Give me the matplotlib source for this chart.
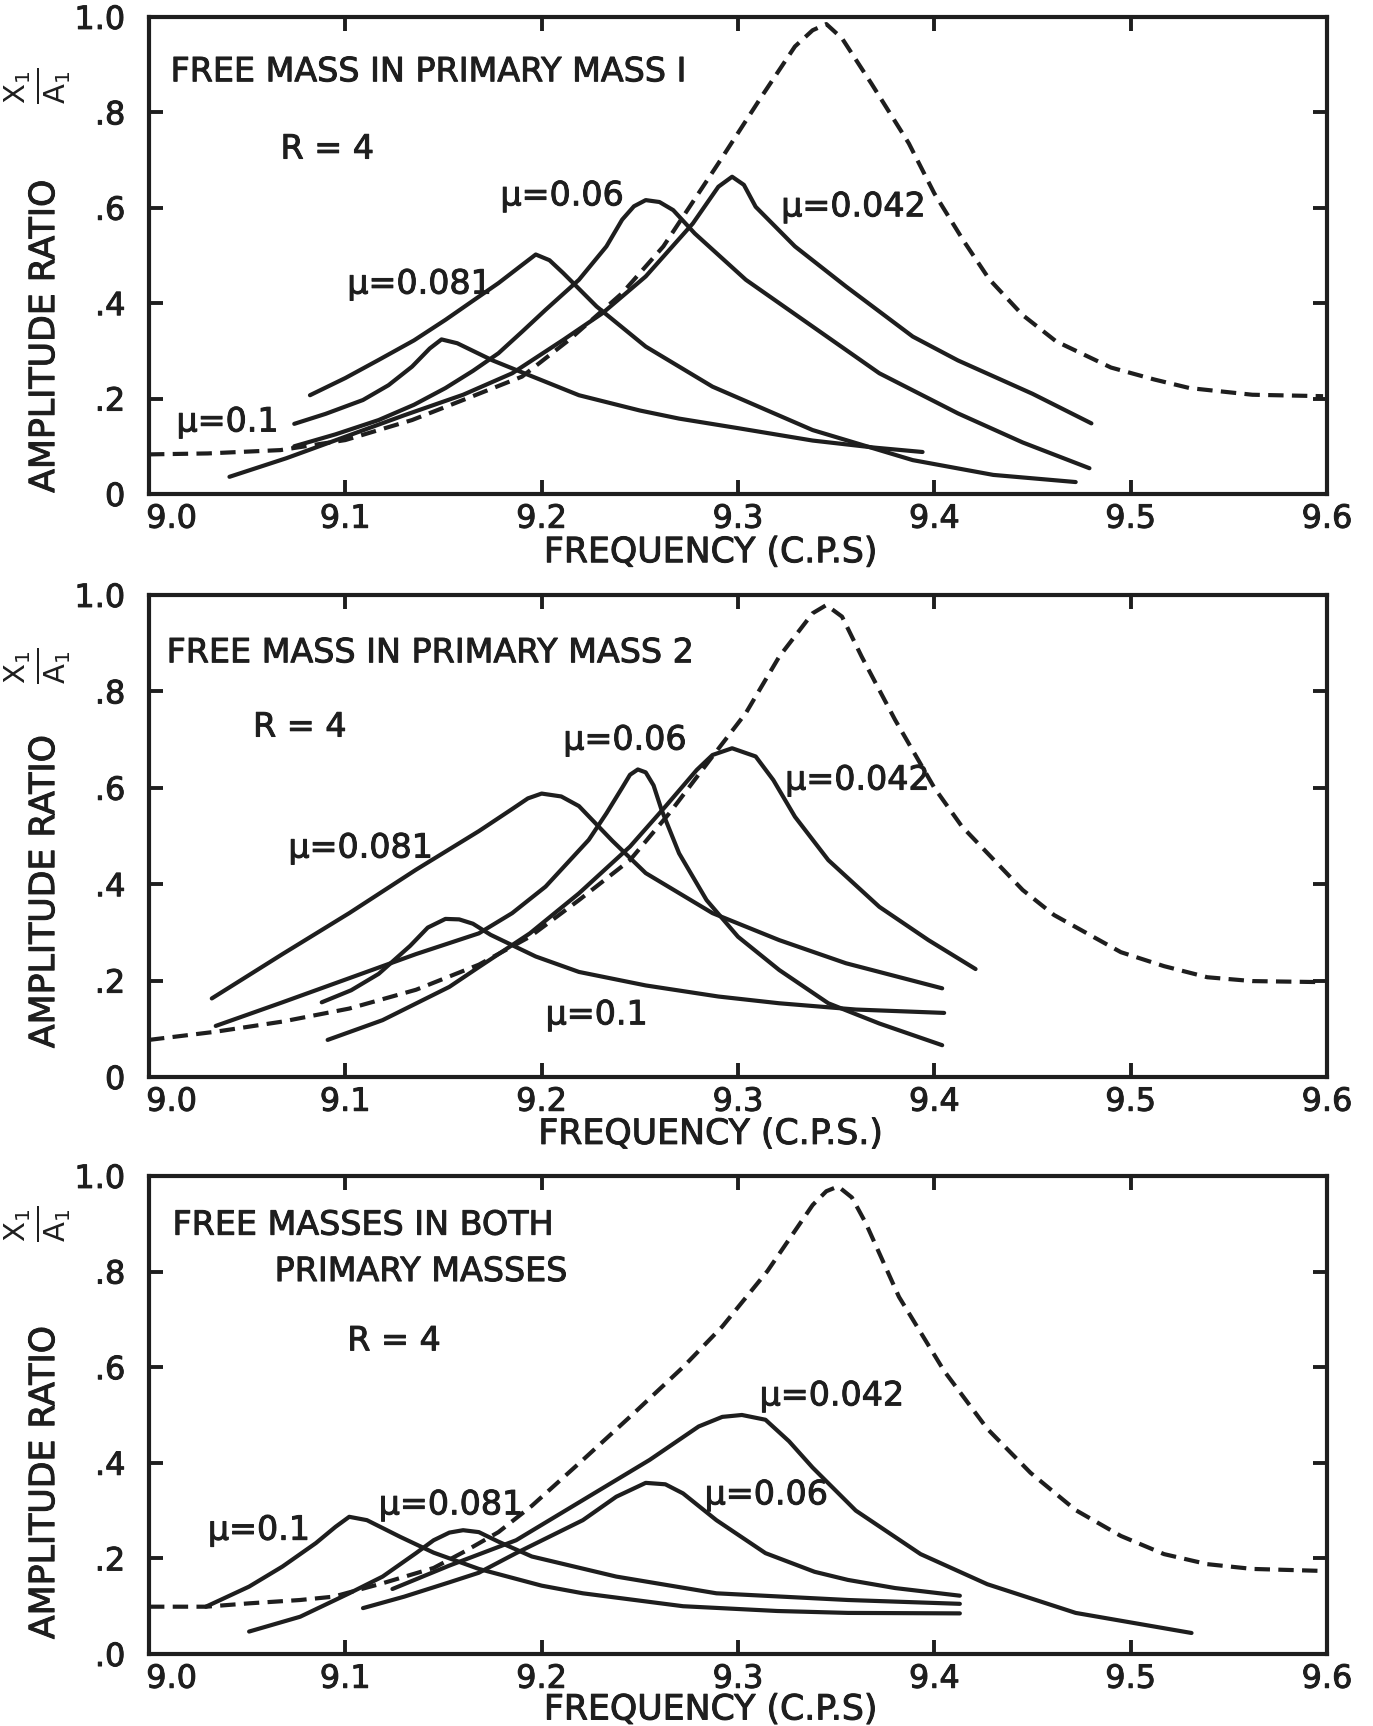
import matplotlib
matplotlib.use("Agg")
import matplotlib.pyplot as plt
import matplotlib.patheffects as pe
from matplotlib.transforms import ScaledTranslation

plt.rcParams['font.family'] = ['DejaVu Sans']
plt.rcParams['mathtext.fontset'] = 'dejavusans'

INK = '#1e1e1e'
# slightly heavier lettering, like ink-stencil text
HEAVY = [pe.withStroke(linewidth=0.7, foreground=INK)]

# ---- frequency axis / amplitude axis ----
freq_ticks = [9.0, 9.1, 9.2, 9.3, 9.4, 9.5, 9.6]
freq_labels = ['9.0', '9.1', '9.2', '9.3', '9.4', '9.5', '9.6']
amp_ticks = [0.0, 0.2, 0.4, 0.6, 0.8, 1.0]
amp_labels_12 = ['0', '.2', '.4', '.6', '.8', '1.0']
amp_labels_3 = ['.0', '.2', '.4', '.6', '.8', '1.0']

# ---- panel 1: free mass in primary mass 1 ----
p1_dash_f = [9.0, 9.03, 9.067, 9.1, 9.134, 9.16, 9.19, 9.214, 9.241, 9.262, 9.29, 9.312, 9.329,
             9.338, 9.345, 9.353, 9.368, 9.387, 9.40, 9.415, 9.428, 9.445, 9.462, 9.49, 9.512, 9.53,
             9.562, 9.598]
p1_dash_a = [0.083, 0.085, 0.092, 0.113, 0.155, 0.197, 0.246, 0.323, 0.421, 0.519, 0.693, 0.833, 0.938,
             0.972, 0.985, 0.955, 0.86, 0.735, 0.63, 0.53, 0.45, 0.375, 0.32, 0.265, 0.24, 0.222,
             0.208, 0.205]

p1_m100_f = [9.074, 9.09, 9.109, 9.122, 9.134, 9.143, 9.149, 9.157, 9.175, 9.19, 9.219, 9.25, 9.27,
             9.3, 9.338, 9.37, 9.394]
p1_m100_a = [0.147, 0.168, 0.197, 0.228, 0.267, 0.305, 0.324, 0.316, 0.28, 0.255, 0.207, 0.175, 0.158,
             0.138, 0.112, 0.097, 0.088]

p1_m081_f = [9.082, 9.1, 9.117, 9.135, 9.151, 9.165, 9.178, 9.19, 9.197, 9.204, 9.211, 9.228, 9.253,
             9.287, 9.338, 9.389, 9.43, 9.472]
p1_m081_a = [0.207, 0.243, 0.281, 0.322, 0.365, 0.405, 0.442, 0.48, 0.502, 0.49, 0.463, 0.393, 0.309,
             0.225, 0.134, 0.071, 0.04, 0.025]

p1_m060_f = [9.074, 9.095, 9.117, 9.135, 9.151, 9.165, 9.178, 9.19, 9.202, 9.219, 9.233, 9.241, 9.247,
             9.253, 9.26, 9.267, 9.278, 9.304, 9.338, 9.372, 9.412, 9.445, 9.479]
p1_m060_a = [0.10, 0.125, 0.155, 0.187, 0.222, 0.258, 0.295, 0.34, 0.386, 0.449, 0.519, 0.575, 0.603,
             0.616, 0.612, 0.595, 0.546, 0.449, 0.351, 0.253, 0.169, 0.108, 0.054]

p1_m042_f = [9.041, 9.07, 9.1, 9.13, 9.16, 9.185, 9.211, 9.231, 9.253, 9.277, 9.29, 9.297, 9.303,
             9.309, 9.329, 9.355, 9.389, 9.412, 9.45, 9.48]
p1_m042_a = [0.036, 0.075, 0.12, 0.165, 0.208, 0.253, 0.323, 0.379, 0.456, 0.567, 0.644, 0.665, 0.648,
             0.602, 0.519, 0.435, 0.33, 0.28, 0.21, 0.148]

# ---- panel 2: free mass in primary mass 2 ----
p2_dash_f = [9.0, 9.034, 9.068, 9.102, 9.136, 9.168, 9.194, 9.219, 9.245, 9.265, 9.287, 9.304, 9.321,
             9.338, 9.345, 9.353, 9.363, 9.38, 9.4, 9.414, 9.445, 9.461, 9.495, 9.517, 9.539, 9.562, 9.595]
p2_dash_a = [0.077, 0.094, 0.115, 0.142, 0.181, 0.233, 0.291, 0.367, 0.45, 0.547, 0.665, 0.755, 0.872,
             0.962, 0.979, 0.955, 0.872, 0.741, 0.60, 0.52, 0.388, 0.336, 0.259, 0.23, 0.207, 0.199, 0.197]

p2_m100_f = [9.088, 9.103, 9.117, 9.133, 9.142, 9.151, 9.158, 9.165, 9.174, 9.197, 9.219, 9.253, 9.29,
             9.321, 9.36, 9.405]
p2_m100_a = [0.155, 0.18, 0.214, 0.272, 0.31, 0.328, 0.327, 0.318, 0.295, 0.25, 0.218, 0.19, 0.167,
             0.153, 0.14, 0.133]

p2_m081_f = [9.032, 9.068, 9.102, 9.136, 9.168, 9.185, 9.193, 9.2, 9.21, 9.219, 9.236, 9.253, 9.287,
             9.321, 9.355, 9.404]
p2_m081_a = [0.163, 0.255, 0.34, 0.43, 0.51, 0.556, 0.578, 0.588, 0.582, 0.562, 0.49, 0.423, 0.34,
             0.284, 0.236, 0.184]

p2_m060_f = [9.034, 9.068, 9.102, 9.136, 9.168, 9.185, 9.202, 9.224, 9.233, 9.241, 9.245, 9.249, 9.253,
             9.257, 9.261, 9.27, 9.284, 9.3, 9.321, 9.346, 9.372, 9.404]
p2_m060_a = [0.106, 0.155, 0.205, 0.255, 0.298, 0.34, 0.395, 0.492, 0.547, 0.60, 0.627, 0.638, 0.632,
             0.605, 0.555, 0.464, 0.367, 0.291, 0.222, 0.153, 0.111, 0.066]

p2_m042_f = [9.091, 9.119, 9.153, 9.168, 9.194, 9.219, 9.245, 9.263, 9.279, 9.287, 9.297, 9.309, 9.318,
             9.329, 9.346, 9.372, 9.397, 9.421]
p2_m042_a = [0.077, 0.118, 0.187, 0.228, 0.298, 0.381, 0.478, 0.561, 0.637, 0.668, 0.682, 0.665, 0.616,
             0.54, 0.45, 0.353, 0.284, 0.224]

# ---- panel 3: free masses in both primary masses ----
p3_dash_f = [9.0, 9.029, 9.051, 9.077, 9.094, 9.119, 9.145, 9.161, 9.178, 9.195, 9.221, 9.246, 9.272,
             9.292, 9.315, 9.338, 9.345, 9.351, 9.358, 9.365, 9.382, 9.405, 9.427, 9.449, 9.472, 9.495,
             9.517, 9.539, 9.562, 9.596]
p3_dash_a = [0.099, 0.099, 0.106, 0.113, 0.12, 0.148, 0.18, 0.215, 0.255, 0.31, 0.406, 0.50, 0.60,
             0.685, 0.801, 0.939, 0.968, 0.978, 0.955, 0.902, 0.747, 0.592, 0.471, 0.379, 0.301, 0.247,
             0.209, 0.188, 0.178, 0.174]

p3_m100_f = [9.029, 9.051, 9.068, 9.085, 9.095, 9.102, 9.111, 9.128, 9.145, 9.168, 9.2, 9.221, 9.272,
             9.32, 9.356, 9.413]
p3_m100_a = [0.099, 0.141, 0.183, 0.232, 0.266, 0.287, 0.28, 0.245, 0.212, 0.178, 0.143, 0.127, 0.10,
             0.09, 0.086, 0.085]

p3_m081_f = [9.051, 9.077, 9.102, 9.119, 9.136, 9.145, 9.153, 9.16, 9.168, 9.178, 9.195, 9.238, 9.289,
             9.356, 9.413]
p3_m081_a = [0.047, 0.078, 0.127, 0.162, 0.211, 0.238, 0.254, 0.259, 0.255, 0.235, 0.204, 0.162, 0.127,
             0.113, 0.105]

p3_m060_f = [9.109, 9.13, 9.153, 9.168, 9.187, 9.221, 9.238, 9.253, 9.263, 9.272, 9.289, 9.314, 9.339,
             9.356, 9.38, 9.413]
p3_m060_a = [0.096, 0.12, 0.15, 0.17, 0.211, 0.28, 0.329, 0.358, 0.355, 0.336, 0.28, 0.211, 0.172,
             0.155, 0.138, 0.122]

p3_m042_f = [9.124, 9.153, 9.187, 9.221, 9.255, 9.28, 9.292, 9.302, 9.314, 9.326, 9.338, 9.36, 9.393,
             9.427, 9.472, 9.531]
p3_m042_a = [0.136, 0.185, 0.238, 0.322, 0.406, 0.476, 0.496, 0.5, 0.49, 0.445, 0.39, 0.3, 0.209,
             0.146, 0.086, 0.044]

# annotation text and where it sits (data coordinates)
p1_notes = [("FREE MASS IN PRIMARY MASS I", 9.011, 0.885), ("R = 4", 9.067, 0.723),
            ("μ=0.06", 9.179, 0.625), ("μ=0.042", 9.322, 0.602),
            ("μ=0.081", 9.101, 0.44), ("μ=0.1", 9.014, 0.151)]
p2_notes = [("FREE MASS IN PRIMARY MASS 2", 9.009, 0.88), ("R = 4", 9.053, 0.726),
            ("μ=0.06", 9.211, 0.699), ("μ=0.042", 9.324, 0.616),
            ("μ=0.081", 9.071, 0.475), ("μ=0.1", 9.202, 0.129)]
p3_notes = [("FREE MASSES IN BOTH", 9.012, 0.897), ("PRIMARY MASSES", 9.064, 0.80),
            ("R = 4", 9.101, 0.655), ("μ=0.042", 9.311, 0.54), ("μ=0.06", 9.283, 0.333),
            ("μ=0.081", 9.117, 0.312), ("μ=0.1", 9.03, 0.259)]

panels = [
    dict(rect=[0.1085, 0.7138, 0.858, 0.2764], dash=(p1_dash_f, p1_dash_a),
         curves=[(p1_m100_f, p1_m100_a), (p1_m081_f, p1_m081_a), (p1_m060_f, p1_m060_a), (p1_m042_f, p1_m042_a)],
         notes=p1_notes, ylabels=amp_labels_12, xlabel="FREQUENCY (C.P.S)",
         ylab_y=0.33, frac_y=0.855, xlab_y=-0.122),
    dict(rect=[0.1085, 0.3760, 0.858, 0.2793], dash=(p2_dash_f, p2_dash_a),
         curves=[(p2_m100_f, p2_m100_a), (p2_m081_f, p2_m081_a), (p2_m060_f, p2_m060_a), (p2_m042_f, p2_m042_a)],
         notes=p2_notes, ylabels=amp_labels_12, xlabel="FREQUENCY (C.P.S.)",
         ylab_y=0.384, frac_y=0.853, xlab_y=-0.118),
    dict(rect=[0.1085, 0.0417, 0.858, 0.2770], dash=(p3_dash_f, p3_dash_a),
         curves=[(p3_m100_f, p3_m100_a), (p3_m081_f, p3_m081_a), (p3_m060_f, p3_m060_a), (p3_m042_f, p3_m042_a)],
         notes=p3_notes, ylabels=amp_labels_3, xlabel="FREQUENCY (C.P.S)",
         ylab_y=0.358, frac_y=0.90, xlab_y=-0.116),
]

fig = plt.figure(figsize=(13.73, 17.26), dpi=100)
fig.patch.set_facecolor('white')

for p in panels:
    ax = fig.add_axes(p['rect'])
    ax.set_xlim(9.0, 9.6)
    ax.set_ylim(0.0, 1.0)

    for f, a in p['curves']:
        ax.plot(f, a, color=INK, lw=3.0, solid_capstyle='round', solid_joinstyle='round')
    df, da = p['dash']
    ax.plot(df, da, color=INK, lw=3.0, dashes=(3.7, 2.0), dash_capstyle='butt',
            dash_joinstyle='round')

    for txt, x, y in p['notes']:
        ax.text(x, y, txt, fontsize=24, color=INK, ha='left', va='center', path_effects=HEAVY)

    for s in ax.spines.values():
        s.set_linewidth(3.0)
        s.set_color(INK)

    ax.set_xticks(freq_ticks)
    ax.set_xticklabels(freq_labels)
    ax.set_yticks(amp_ticks)
    ax.set_yticklabels(p['ylabels'])
    ax.tick_params(direction='in', length=10, width=2.8, color=INK,
                   top=True, right=True, labelsize=23, labelcolor=INK)
    ax.tick_params(axis='x', pad=7)
    ax.tick_params(axis='y', pad=17)
    for lab in ax.get_xticklabels() + ax.get_yticklabels():
        lab.set_path_effects(HEAVY)
    # the 9.0 label sits just right of the corner, clear of the amplitude zero
    first = ax.get_xticklabels()[0]
    first.set_horizontalalignment('left')
    first.set_transform(first.get_transform() + ScaledTranslation(-2 / 72, 0, fig.dpi_scale_trans))

    ax.text(0.477, p['xlab_y'], p['xlabel'], transform=ax.transAxes, fontsize=25,
            color=INK, ha='center', va='center', path_effects=HEAVY)
    ax.text(-0.089, p['ylab_y'], "AMPLITUDE RATIO", transform=ax.transAxes, rotation=90,
            fontsize=25, color=INK, ha='center', va='center', path_effects=HEAVY)
    ax.text(-0.094, p['frac_y'], r"$\frac{\mathrm{X_1}}{\mathrm{A_1}}$", transform=ax.transAxes,
            rotation=90, fontsize=30, color=INK, ha='center', va='center')

fig.savefig("out.png", dpi=100, facecolor='white')
